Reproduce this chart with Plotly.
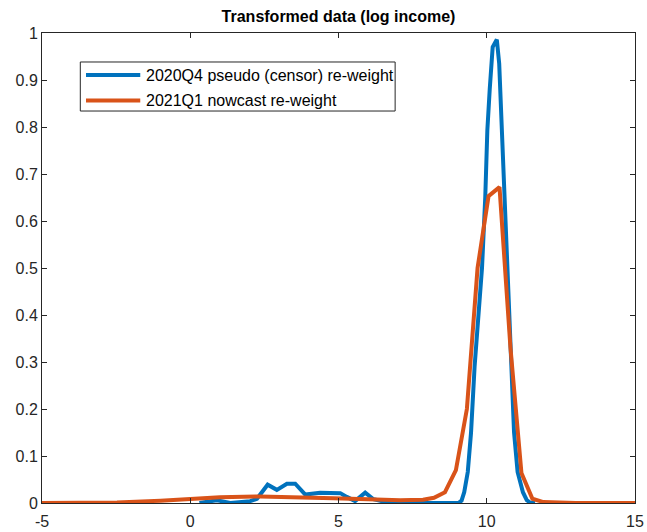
import plotly.graph_objects as go

# Blue series: 2020Q4 pseudo (censor) re-weight
blue_x = [0.31, 0.60, 0.90, 1.35, 2.02, 2.25, 2.61, 2.92, 3.26, 3.54, 3.88, 4.38, 5.06, 5.28,
          5.56, 5.90, 6.18, 6.63, 7.08, 8.00, 9.04, 9.15, 9.24, 9.36, 9.47, 9.59, 9.72, 9.84,
          9.95, 10.02, 10.10, 10.20, 10.34, 10.42, 10.51, 10.60, 10.68, 10.81, 10.92, 11.04,
          11.13, 11.22, 11.35, 11.46, 11.63]
blue_y = [0.000, 0.003, 0.006, 0.000, 0.004, 0.009, 0.039, 0.028, 0.041, 0.041, 0.018, 0.022,
          0.021, 0.013, 0.004, 0.022, 0.008, 0.0015, 0.000, 0.000, 0.000, 0.005, 0.023, 0.066,
          0.150, 0.290, 0.400, 0.500, 0.651, 0.793, 0.880, 0.970, 0.986, 0.935, 0.793, 0.651,
          0.495, 0.293, 0.151, 0.066, 0.040, 0.023, 0.006, 0.001, 0.000]

# Orange series: 2021Q1 nowcast re-weight
red_x = [-5.0, -3.0, -2.47, -1.0, 0.0, 1.0, 2.36, 3.5, 4.83, 6.0, 7.08, 7.85, 8.22, 8.59,
         8.96, 9.33, 9.69, 10.06, 10.43, 10.80, 11.17, 11.54, 11.91, 13.0, 15.0]
red_y = [0.000, 0.001, 0.001, 0.005, 0.009, 0.012, 0.014, 0.013, 0.010, 0.008, 0.006, 0.007,
         0.011, 0.023, 0.070, 0.200, 0.500, 0.653, 0.672, 0.330, 0.064, 0.009, 0.002, 0.000,
         0.000]

names = ["2020Q4 pseudo (censor) re-weight", "2021Q1 nowcast re-weight"]
colors = ["#0072BD", "#D95319"]

x_ticks = [-5, 0, 5, 10, 15]
y_ticks = [0, 0.1, 0.2, 0.3, 0.4, 0.5, 0.6, 0.7, 0.8, 0.9, 1]
y_labels = ["0", "0.1", "0.2", "0.3", "0.4", "0.5", "0.6", "0.7", "0.8", "0.9", "1"]

FONT = "Liberation Sans"

fig = go.Figure()
fig.add_trace(go.Scatter(x=blue_x, y=blue_y, mode="lines", name=names[0],
                         line=dict(color=colors[0], width=4), showlegend=False))
fig.add_trace(go.Scatter(x=red_x, y=red_y, mode="lines", name=names[1],
                         line=dict(color=colors[1], width=4), showlegend=False))

axis_common = dict(showgrid=False, zeroline=False, showline=True, linecolor="#262626",
                   linewidth=1, mirror="ticks", ticks="inside", ticklen=5,
                   tickcolor="#262626", automargin=False,
                   tickfont=dict(size=16, color="#262626", family=FONT))

# MATLAB-style legend box (long line samples), drawn in paper coordinates
box = dict(x0=0.0646, x1=0.5955, y0=0.834, y1=0.9383)
row_y = [0.9106, 0.8566]
sample_x = (0.0742, 0.1657)
text_x = 0.1725

shapes = [dict(type="rect", xref="paper", yref="paper", x0=box["x0"], x1=box["x1"],
               y0=box["y0"], y1=box["y1"], line=dict(color="#262626", width=1),
               fillcolor="white", layer="above")]
annotations = []
for name, col, ry in zip(names, colors, row_y):
    shapes.append(dict(type="line", xref="paper", yref="paper", x0=sample_x[0],
                       x1=sample_x[1], y0=ry, y1=ry, line=dict(color=col, width=4),
                       layer="above"))
    annotations.append(dict(xref="paper", yref="paper", x=text_x, y=ry, text=name,
                            showarrow=False, xanchor="left", yanchor="middle",
                            font=dict(size=16, color="black", family=FONT)))

fig.update_layout(
    width=647, height=532,
    margin=dict(l=42, r=12, t=33, b=29),
    paper_bgcolor="white", plot_bgcolor="white",
    title=dict(text="<b>Transformed data (log income)</b>", x=0.5, xanchor="center",
               xref="paper", y=0.970, yanchor="middle", automargin=False,
               font=dict(size=16, color="black", family=FONT)),
    xaxis=dict(range=[-5, 15], tickvals=x_ticks, ticktext=[str(v) for v in x_ticks],
               ticklabelstandoff=4, **axis_common),
    yaxis=dict(range=[0, 1], tickvals=y_ticks, ticktext=y_labels, **axis_common),
    shapes=shapes,
    annotations=annotations,
    showlegend=False,
)

fig.write_html("out.html", config={"displayModeBar": False},
               post_script="document.body.style.margin='0';document.body.style.overflow='hidden';")
